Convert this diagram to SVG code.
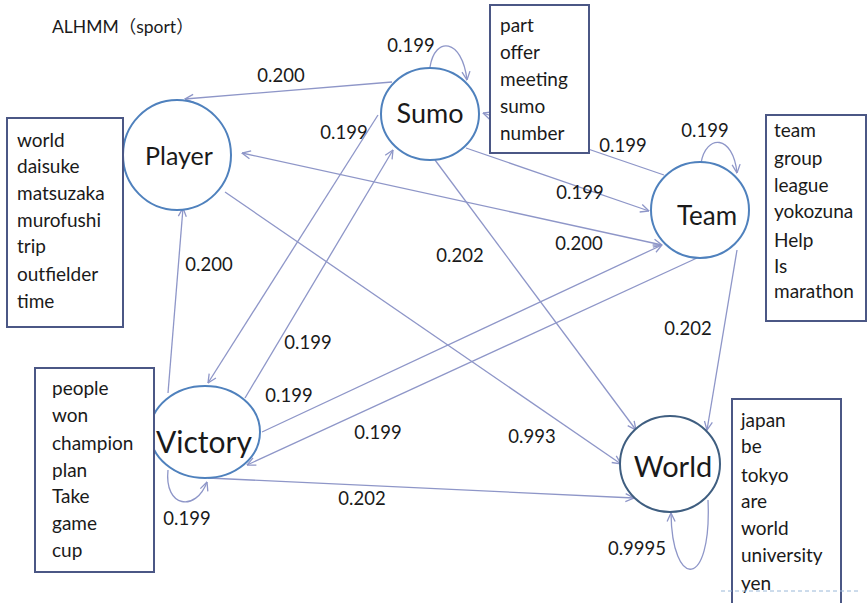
<svg xmlns="http://www.w3.org/2000/svg" width="868" height="603" viewBox="0 0 868 603">
<style>
text{font-family:Lato,"Open Sans","Noto Sans CJK JP",sans-serif;fill:#1a1a1a}
.node{fill:#fff;stroke:#4f81bd;stroke-width:2}
.box{fill:#fff;stroke:#4b5785;stroke-width:2}
.edge{fill:none;stroke:#8e96c8;stroke-width:1.3;marker-end:url(#arr)}
.lbl{font-size:18.5px;text-anchor:middle}
.words{font-size:19px}
.nl{text-anchor:middle}
</style>
<defs>
<marker id="arr" viewBox="0 0 10 10" refX="9.5" refY="5" markerWidth="10" markerHeight="10" markerUnits="userSpaceOnUse" orient="auto-start-reverse">
<path d="M1,1 L9.5,5 L1,9" fill="none" stroke="#8e96c8" stroke-width="1.3"/>
</marker>
</defs>
<rect width="868" height="603" fill="#fff"/>
<text x="52" y="33" font-size="17.5">ALHMM（sport）</text>
<g id="connectors">
<path class="edge" d="M392,82 L185,99"/>
<path class="edge" d="M430,67 C435,36 462,38 467,80"/>
<path class="edge" style="marker-start:url(#arr)" d="M242,153 L662,245"/>
<path class="edge" d="M664,175 L483,113"/>
<path class="edge" d="M466,148 L649,211"/>
<path class="edge" d="M701,163 C706,134 733,134 737,173"/>
<path class="edge" d="M737,250 L707,430"/>
<path class="edge" d="M435,160 L636,430"/>
<path class="edge" d="M225,192 L621,464"/>
<path class="edge" d="M208,478 L634,498"/>
<path class="edge" d="M168,470 C164,508 196,512 207,482"/>
<path class="edge" d="M708,500 C712,590 672,590 671,513"/>
<path class="edge" d="M168,393 L183,208"/>
<path class="edge" d="M378,115 L208,383"/>
<path class="edge" d="M245,398 L393,150"/>
<path class="edge" d="M262,432 L662,245"/>
<path class="edge" d="M697,258 L247,465"/>
<text class="lbl" x="281" y="82">0.200</text>
<text class="lbl" x="411" y="52">0.199</text>
<text class="lbl" x="344" y="139">0.199</text>
<text class="lbl" x="209" y="271">0.200</text>
<text class="lbl" x="623" y="152">0.199</text>
<text class="lbl" x="705" y="137">0.199</text>
<text class="lbl" x="580" y="199">0.199</text>
<text class="lbl" x="579" y="250">0.200</text>
<text class="lbl" x="460" y="262">0.202</text>
<text class="lbl" x="688" y="335">0.202</text>
<text class="lbl" x="308" y="349">0.199</text>
<text class="lbl" x="289" y="402">0.199</text>
<text class="lbl" x="378" y="439">0.199</text>
<text class="lbl" x="532" y="443">0.993</text>
<text class="lbl" x="362" y="505">0.202</text>
<text class="lbl" x="187" y="525">0.199</text>
<text class="lbl" x="637" y="555">0.9995</text>
</g>
<g id="player">
<ellipse class="node" cx="177" cy="155" rx="54" ry="55"/>
<text class="nl" x="179" y="165" font-size="25">Player</text>
<rect class="box" x="7" y="118" width="116" height="209"/>
<text class="words" x="17" y="147">world</text>
<text class="words" x="17" y="173">daisuke</text>
<text class="words" x="17" y="200">matsuzaka</text>
<text class="words" x="17" y="227">murofushi</text>
<text class="words" x="17" y="253">trip</text>
<text class="words" x="17" y="281">outfielder</text>
<text class="words" x="17" y="308">time</text>
</g>
<g id="sumo">
<ellipse class="node" cx="430" cy="114" rx="49" ry="46"/>
<text class="nl" x="430" y="123" font-size="27">Sumo</text>
<rect class="box" x="490" y="5" width="99" height="148"/>
<text class="words" x="500" y="32">part</text>
<text class="words" x="500" y="59">offer</text>
<text class="words" x="500" y="86">meeting</text>
<text class="words" x="500" y="113">sumo</text>
<text class="words" x="500" y="140">number</text>
</g>
<g id="team">
<ellipse class="node" cx="700" cy="210" rx="49" ry="48"/>
<text class="nl" x="707" y="225" font-size="26">Team</text>
<rect class="box" x="766" y="115" width="100" height="206"/>
<text class="words" x="774" y="137">team</text>
<text class="words" x="774" y="165">group</text>
<text class="words" x="774" y="192">league</text>
<text class="words" x="774" y="218">yokozuna</text>
<text class="words" x="774" y="247">Help</text>
<text class="words" x="774" y="273">Is</text>
<text class="words" x="774" y="298">marathon</text>
</g>
<g id="victory">
<ellipse class="node" cx="205" cy="432" rx="55" ry="46"/>
<text class="nl" x="204" y="453" font-size="30">Victory</text>
<rect class="box" x="35" y="368" width="119" height="204"/>
<text class="words" x="52" y="395">people</text>
<text class="words" x="52" y="422">won</text>
<text class="words" x="52" y="450">champion</text>
<text class="words" x="52" y="477">plan</text>
<text class="words" x="52" y="503">Take</text>
<text class="words" x="52" y="530">game</text>
<text class="words" x="52" y="557">cup</text>
</g>
<g id="world">
<ellipse class="node" style="stroke:#3f5e80" cx="670" cy="464" rx="50" ry="48"/>
<text class="nl" x="673" y="477" font-size="29">World</text>
<rect class="box" x="732" y="399" width="109" height="212"/>
<text class="words" x="741" y="427">japan</text>
<text class="words" x="741" y="453">be</text>
<text class="words" x="741" y="482">tokyo</text>
<text class="words" x="741" y="508">are</text>
<text class="words" x="741" y="535">world</text>
<text class="words" x="741" y="562">university</text>
<text class="words" x="741" y="590">yen</text>
</g>
<path d="M721,591 L859,591" stroke="#9ab8d8" stroke-width="1" stroke-dasharray="4 3" fill="none"/>
</svg>
